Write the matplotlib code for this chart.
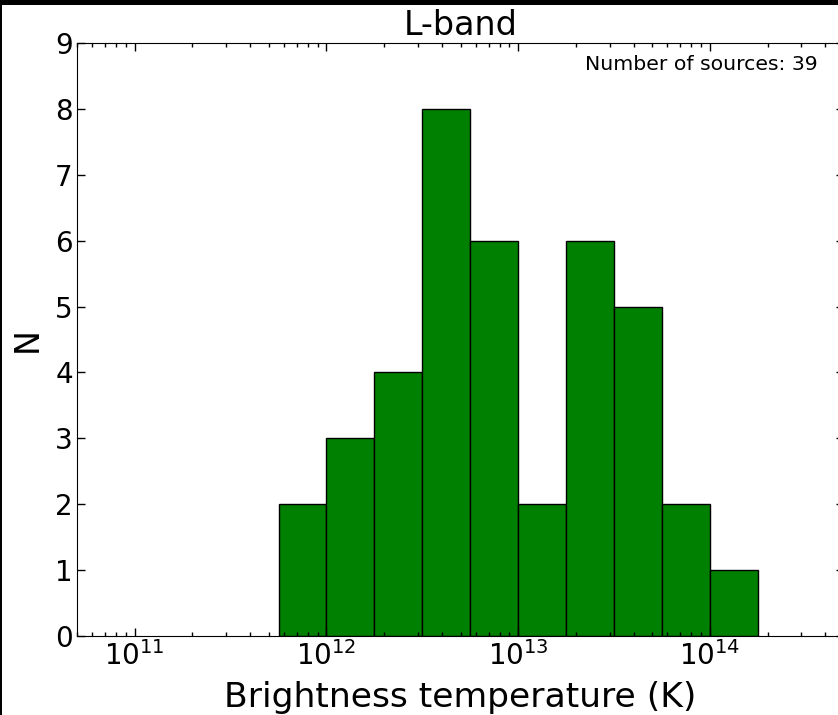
import numpy as np
import matplotlib
matplotlib.use('Agg')
import matplotlib.pyplot as plt
from matplotlib.patches import Rectangle

# histogram of brightness temperatures, log10 bin edges
log_edges = [11.75, 12.0, 12.25, 12.5, 12.75, 13.0, 13.25, 13.5, 13.75, 14.0, 14.25]
counts = [2, 3, 4, 8, 6, 2, 6, 5, 2, 1]
band = 'L-band'
xlims = [5e10, 5e14]

edges = 10**np.array(log_edges)

fig = plt.figure(figsize=(8.38, 7.15), dpi=100)
ax = fig.add_axes([77/838., 79/715., 767/838., 593/715.])

ax.bar(edges[:-1], counts, width=np.diff(edges), align='edge',
       color='#008000', edgecolor='black', linewidth=1.0)
ax.set_xscale('log')
ax.set_xlim(xlims)
ax.set_ylim(0, 9)

ax.tick_params(which='both', direction='in', top=True, right=True)
ax.tick_params(which='major', length=6, width=1, labelsize=20, pad=4)
ax.tick_params(which='minor', length=3, width=1)
ax.tick_params(axis='y', pad=3)

ax.set_title(band, fontsize=24, pad=6)
ax.set_xlabel('Brightness temperature (K)', fontsize=24.8, labelpad=7)
ax.set_ylabel('N', fontsize=24, labelpad=8)
ax.text(0.965, 0.963, 'Number of sources: %d' % sum(counts), transform=ax.transAxes,
        ha='right', va='center', fontsize=14.7)

# dark strips along the top and left edges
fig.patches.append(Rectangle((0, 1-5/715.), 1, 5/715., transform=fig.transFigure,
                             color='black', zorder=10, linewidth=0))
fig.patches.append(Rectangle((0, 0), 2/838., 1, transform=fig.transFigure,
                             color='black', zorder=10, linewidth=0))

fig.savefig('out.png', dpi=100)
